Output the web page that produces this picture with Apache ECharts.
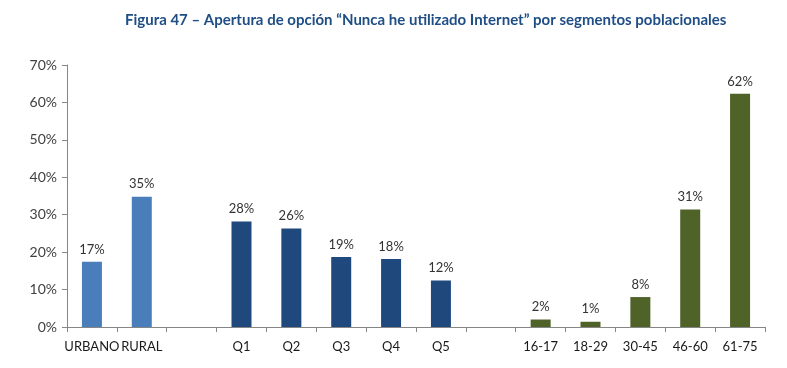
<!DOCTYPE html>
<html>
<head>
<meta charset="utf-8">
<script src="https://cdn.jsdelivr.net/npm/echarts@6/dist/echarts.min.js"></script>
<style>html,body{margin:0;padding:0;background:#fff;}#c{width:787px;height:368px;}</style>
</head>
<body>
<div id="c"></div>
<script>
const titleText = 'Figura 47 – Apertura de opción “Nunca he utilizado Internet” por segmentos poblacionales';
const areaCategories = ['URBANO', 'RURAL'];
const areaValues = [17.4, 34.8];
const quintileCategories = ['Q1', 'Q2', 'Q3', 'Q4', 'Q5'];
const quintileValues = [28.2, 26.3, 18.7, 18.2, 12.4];
const ageCategories = ['16-17', '18-29', '30-45', '46-60', '61-75'];
const ageValues = [2.0, 1.4, 8.0, 31.4, 62.3];
const yTicks = [0, 10, 20, 30, 40, 50, 60, 70];

const groupColors = ['#4a7ebb', '#1f497d', '#4f6228'];
const groups = [
  [areaCategories, areaValues],
  [quintileCategories, quintileValues],
  [ageCategories, ageValues]
];
const categories = [];
const data = [];
groups.forEach((g, gi) => {
  if (gi > 0) { categories.push(''); data.push('-'); }
  g[0].forEach((c, i) => {
    categories.push(c);
    data.push({ value: g[1][i], itemStyle: { color: groupColors[gi] } });
  });
});

const chart = echarts.init(document.getElementById('c'), null, { renderer: 'canvas' });
chart.setOption({
  animation: false,
  backgroundColor: '#ffffff',
  textStyle: { fontFamily: 'Lato' },
  title: {
    text: titleText,
    left: 120, top: 8,
    textStyle: { fontFamily: 'Lato', fontWeight: 'bold', fontSize: 15, color: '#1f4e85' }
  },
  grid: { left: 67, right: 22, top: 65, bottom: 41, containLabel: false },
  xAxis: {
    type: 'category',
    data: categories,
    boundaryGap: true,
    axisLine: { lineStyle: { color: '#868686', width: 1 } },
    axisTick: { show: true, interval: 0, length: 5, lineStyle: { color: '#868686' } },
    axisLabel: { interval: 0, color: '#1a1a1a', fontSize: 13, margin: 13, fontFamily: 'Lato' }
  },
  yAxis: {
    type: 'value',
    min: yTicks[0], max: yTicks[yTicks.length - 1], interval: 10,
    splitLine: { show: false },
    axisLine: { show: true, lineStyle: { color: '#868686' } },
    axisTick: { show: true, length: 5, lineStyle: { color: '#868686' } },
    axisLabel: { formatter: v => v + '%', color: '#404040', fontSize: 14, margin: 10, fontFamily: 'Lato' }
  },
  series: [{
    type: 'bar',
    data: data,
    barWidth: 20,
    label: {
      show: true, position: 'top', distance: 6,
      formatter: p => Math.round(p.value) + '%',
      color: '#333', fontSize: 13, fontFamily: 'Lato'
    }
  }]
});
</script>
</body>
</html>
